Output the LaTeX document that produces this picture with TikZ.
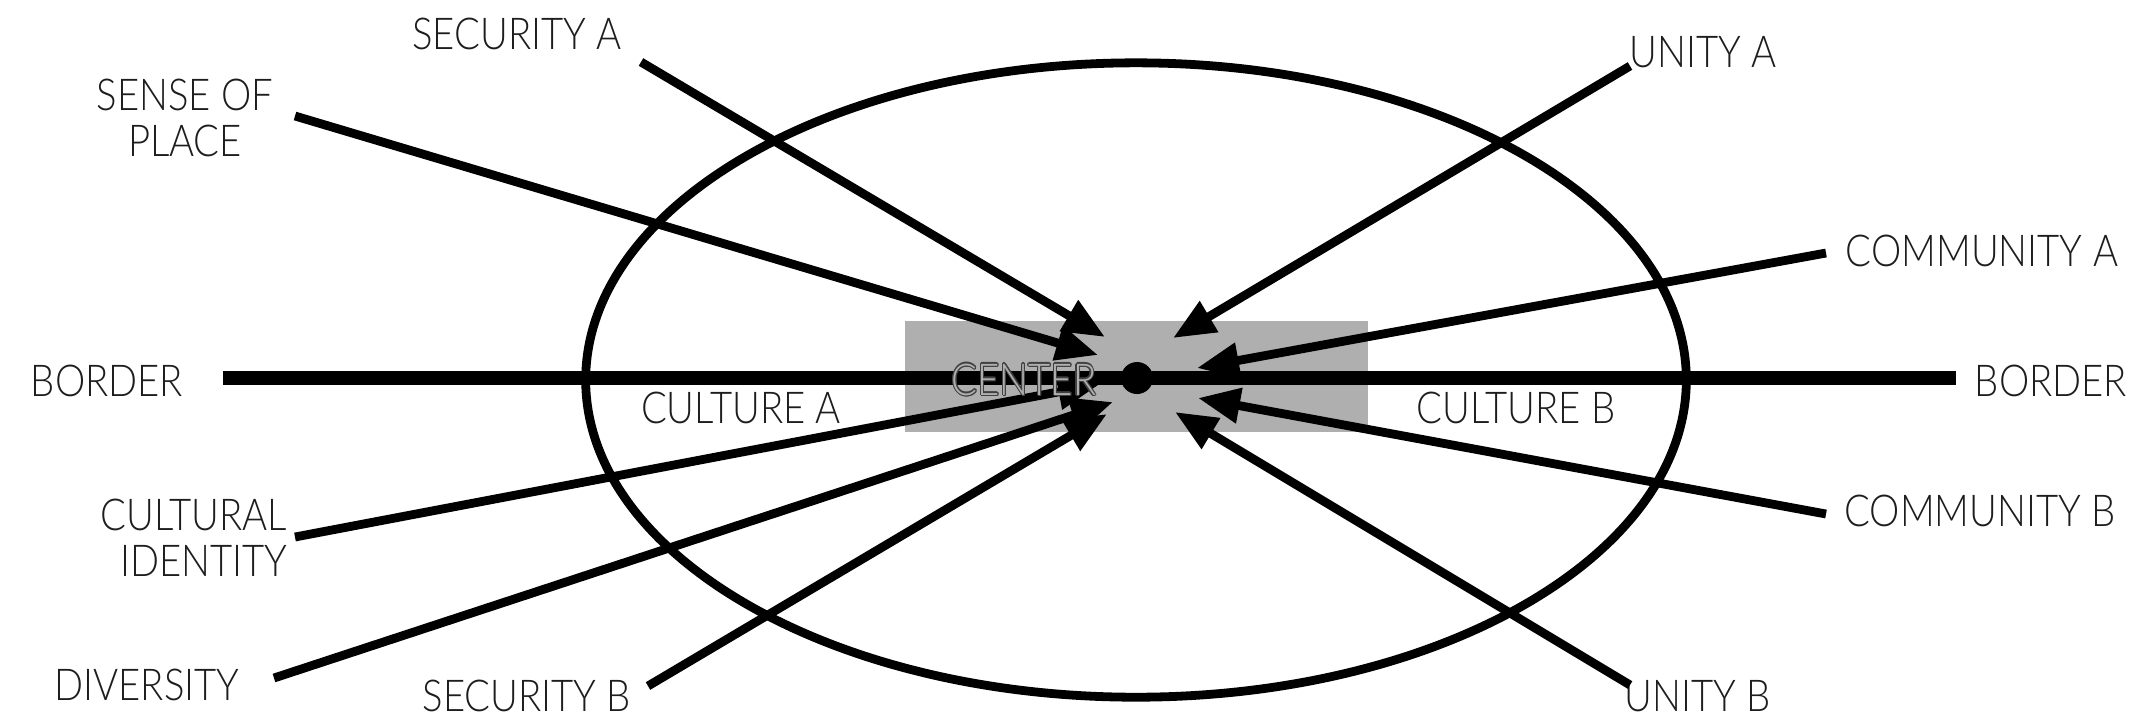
\documentclass[tikz,border=0pt]{standalone}
\usepackage{fontspec}
\setmainfont{Lato Light}[FakeStretch=0.87]
\usepackage{contour}
\contourlength{0.3pt}
\usetikzlibrary{arrows.meta,positioning}
\definecolor{zonegray}{RGB}{176,175,176}
\definecolor{ink}{RGB}{30,28,29}
\tikzset{
  tag/.style={text=ink,inner sep=0pt,font=\fontsize{12.5}{13}\selectfont,align=center},
  pointer/.style={line width=2.5pt,-{Triangle[length=4.2mm,width=3.4mm]}},
  borderline/.style={line width=4.2pt},
  ring/.style={line width=2.5pt},
  zone/.style={fill=zonegray},
  dot/.style={circle,fill,inner sep=0pt,minimum size=3.2mm},
}
\begin{document}
\begin{tikzpicture}[x=0.01cm,y=-0.01cm]
  \useasboundingbox (0,0) rectangle (2148,720);
  \fill[zone] (905,321) rectangle (1368,432);
  \draw[ring] (1136,380) ellipse [x radius=5.5cm,y radius=3.17cm];

  % labels
  \node[tag] (borderL) at (107,381) {BORDER};
  \node[tag] (borderR) at (2051,381) {BORDER};
  \node[tag] (secA) at (517,34) {SECURITY A};
  \node[tag] (sense) at (185,118) {SENSE OF\\PLACE};
  \node[tag] (uniA) at (1703,52) {UNITY A};
  \node[tag] (comA) at (1982,251) {COMMUNITY A};
  \node[tag] (comB) at (1980,511) {COMMUNITY B};
  \node[tag] (uniB) at (1698,696) {UNITY B};
  \node[tag] (secB) at (527,696) {SECURITY B};
  \node[tag] (div) at (147,685) {DIVERSITY};
  \node[tag,align=right,anchor=east] (cult) at (288,538) {CULTURAL\\IDENTITY};
  \node[tag] (cultA) at (741,408) {CULTURE A};
  \node[tag] (cultB) at (1516,408) {CULTURE B};

  % border
  \coordinate (bL) at (223,378);
  \coordinate (bR) at (1956,378);
  \draw[borderline] (bL) -- (bR);
  \node[dot] (hub) at (1137,378) {};

  % arrow ends
  \coordinate (s1) at (641,62);   \coordinate (t1) at (1105,337);
  \coordinate (s2) at (295,116);  \coordinate (t2) at (1098,355);
  \coordinate (s3) at (1630,66);  \coordinate (t3) at (1173,338);
  \coordinate (s4) at (1826,253); \coordinate (t4) at (1197,368);
  \coordinate (s5) at (1826,514); \coordinate (t5) at (1198,398);
  \coordinate (s6) at (1630,685); \coordinate (t6) at (1175,412);
  \coordinate (s7) at (648,686);  \coordinate (t7) at (1107,414);
  \coordinate (s8) at (274,678);  \coordinate (t8) at (1113,402);
  \coordinate (s9) at (295,537);  \coordinate (t9) at (1100,384);
  \foreach \i in {1,...,9}
    \draw[pointer] (s\i) -- (t\i);

  \node[tag] (ctr) at (1024,380) {\contour{black!75}{\textcolor{zonegray}{CENTER}}};
\end{tikzpicture}
\end{document}
